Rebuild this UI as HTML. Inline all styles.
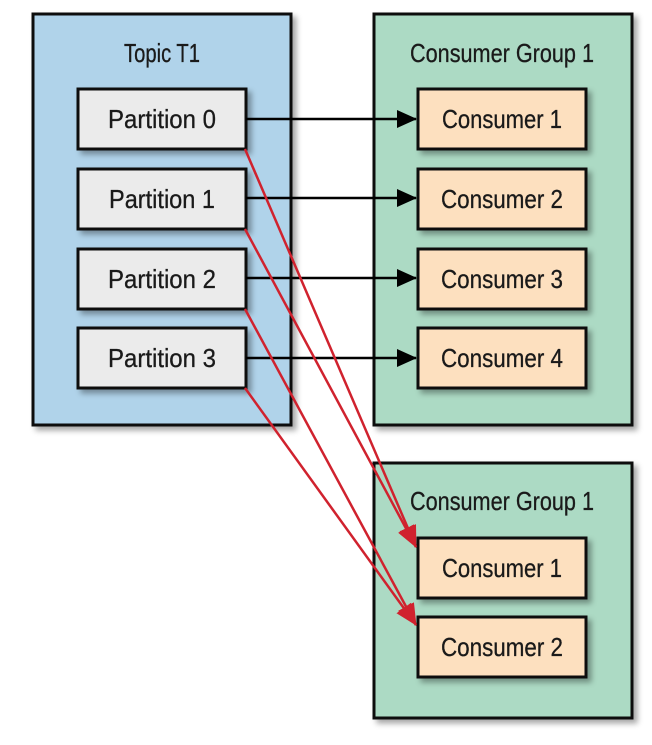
<!DOCTYPE html>
<html><head><meta charset="utf-8"><style>
html,body{margin:0;padding:0;background:#fff;}
svg text{font-family:"Liberation Sans",sans-serif;font-size:26px;fill:#1a1a1a;text-anchor:middle;stroke:#1a1a1a;stroke-width:0.3px;}
</style></head><body>
<svg width="652" height="740" viewBox="0 0 652 740" xmlns="http://www.w3.org/2000/svg">
<defs>
<filter id="sh" x="-10%" y="-10%" width="130%" height="130%"><feDropShadow dx="4" dy="4" stdDeviation="3" flood-color="#000" flood-opacity="0.35"/></filter>
<marker id="ab" markerWidth="20" markerHeight="18" refX="19" refY="9" orient="auto" markerUnits="userSpaceOnUse"><path d="M0,0 L20,9 L0,18 z" fill="#000"/></marker>
<marker id="ar" markerWidth="22" markerHeight="18" refX="21" refY="9" orient="auto" markerUnits="userSpaceOnUse"><path d="M0,0 L22,9 L0,18 z" fill="#d0222e"/></marker>
</defs>
<rect x="33" y="14" width="258" height="411" fill="#b0d3ea" stroke="#111" stroke-width="3" filter="url(#sh)"/>
<rect x="374" y="14" width="258" height="411" fill="#acdac4" stroke="#111" stroke-width="3" filter="url(#sh)"/>
<rect x="374" y="463" width="258" height="255" fill="#acdac4" stroke="#111" stroke-width="3" filter="url(#sh)"/>
<text x="162" y="62" textLength="76" lengthAdjust="spacingAndGlyphs">Topic T1</text>
<text x="502" y="62" textLength="184" lengthAdjust="spacingAndGlyphs">Consumer Group 1</text>
<text x="502" y="510" textLength="184" lengthAdjust="spacingAndGlyphs">Consumer Group 1</text>
<g fill="#ebebeb" stroke="#111" stroke-width="3" filter="url(#sh)">
<rect x="78" y="89" width="168" height="60"/>
<rect x="78" y="169" width="168" height="60"/>
<rect x="78" y="249" width="168" height="60"/>
<rect x="78" y="328" width="168" height="60"/>
</g>
<g fill="#fde0bf" stroke="#111" stroke-width="3" filter="url(#sh)">
<rect x="418" y="89" width="168" height="60"/>
<rect x="418" y="169" width="168" height="60"/>
<rect x="418" y="249" width="168" height="60"/>
<rect x="418" y="328" width="168" height="60"/>
<rect x="418" y="538" width="168" height="60"/>
<rect x="418" y="617" width="168" height="60"/>
</g>
<g>
<text x="162" y="128" textLength="108" lengthAdjust="spacingAndGlyphs">Partition 0</text>
<text x="162" y="208" textLength="106" lengthAdjust="spacingAndGlyphs">Partition 1</text>
<text x="162" y="288" textLength="108" lengthAdjust="spacingAndGlyphs">Partition 2</text>
<text x="162" y="367" textLength="108" lengthAdjust="spacingAndGlyphs">Partition 3</text>
<text x="502" y="128" textLength="120" lengthAdjust="spacingAndGlyphs">Consumer 1</text>
<text x="502" y="208" textLength="122" lengthAdjust="spacingAndGlyphs">Consumer 2</text>
<text x="502" y="288" textLength="122" lengthAdjust="spacingAndGlyphs">Consumer 3</text>
<text x="502" y="367" textLength="122" lengthAdjust="spacingAndGlyphs">Consumer 4</text>
<text x="502" y="577" textLength="120" lengthAdjust="spacingAndGlyphs">Consumer 1</text>
<text x="502" y="656" textLength="122" lengthAdjust="spacingAndGlyphs">Consumer 2</text>
</g>
<g stroke="#000" stroke-width="2.5" marker-end="url(#ab)">
<line x1="246" y1="119" x2="416" y2="119"/>
<line x1="246" y1="198" x2="416" y2="198"/>
<line x1="246" y1="278" x2="416" y2="278"/>
<line x1="246" y1="358" x2="416" y2="358"/>
</g>
<g stroke="#d0222e" stroke-width="2.5" marker-end="url(#ar)">
<line x1="245" y1="149" x2="416" y2="547"/>
<line x1="245" y1="229" x2="416" y2="547"/>
<line x1="245" y1="309" x2="416" y2="625"/>
<line x1="245" y1="388" x2="416" y2="625"/>
</g>
</svg>
</body></html>
